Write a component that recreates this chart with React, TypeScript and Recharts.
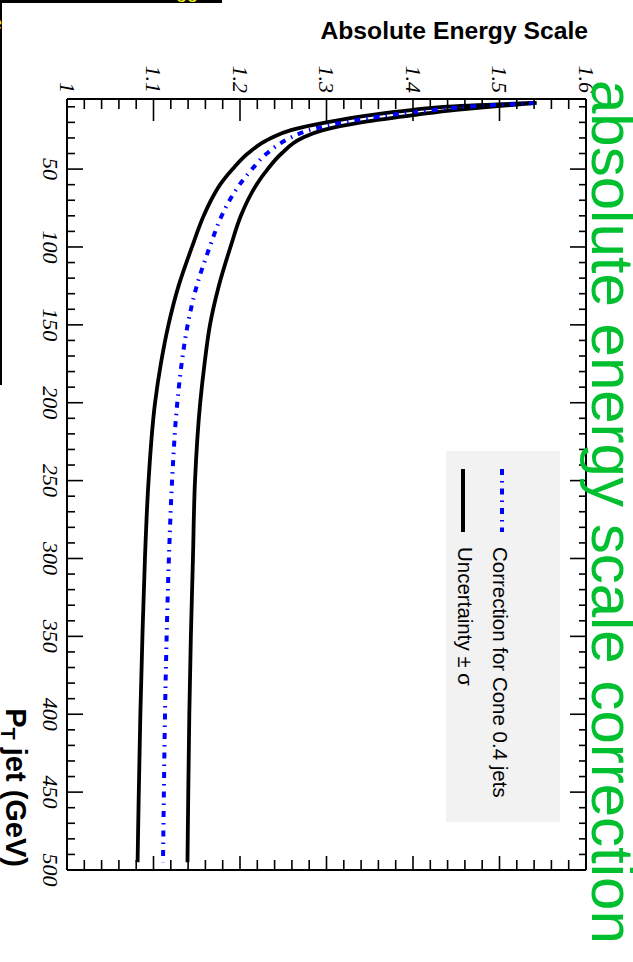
import React from 'react';
import { LineChart, Line, XAxis, YAxis, Legend } from 'recharts';

// Jet transverse momentum (GeV) where the calibration curves are sampled
const ptJet = [7.5, 10, 12, 15, 20, 25, 30, 40, 50, 60, 70, 80, 100, 125, 150, 175, 200, 250, 300, 350, 400, 450, 495];
// Absolute energy scale correction for Cone 0.4 jets
const correction = [1.541, 1.462, 1.425, 1.378, 1.32, 1.28, 1.258, 1.231, 1.214, 1.1995, 1.188, 1.1788, 1.165, 1.15, 1.1395, 1.1325, 1.1275, 1.1215, 1.1178, 1.1152, 1.1133, 1.112, 1.111];
// Lower edge of the uncertainty band (-1 sigma)
const uncertaintyLow = [1.54, 1.435, 1.4, 1.355, 1.3, 1.259, 1.236, 1.209, 1.1915, 1.177, 1.1665, 1.158, 1.1445, 1.129, 1.1173, 1.1085, 1.1018, 1.0943, 1.0901, 1.0872, 1.0848, 1.083, 1.0816];
// Upper edge of the uncertainty band (+1 sigma)
const uncertaintyHigh = [1.543, 1.488, 1.45, 1.405, 1.34, 1.296, 1.272, 1.248, 1.232, 1.219, 1.209, 1.201, 1.189, 1.1755, 1.1653, 1.159, 1.154, 1.148, 1.1456, 1.1432, 1.1414, 1.1402, 1.1393];

// Axis ranges and labelled ticks
const ptRange = [5, 500];
const scaleRange = [1, 1.6];
const ptTickLabels = [50, 100, 150, 200, 250, 300, 350, 400, 450, 500];
const scaleTickLabels = [1, 1.1, 1.2, 1.3, 1.4, 1.5, 1.6];

const legendItems = [
  { label: 'Correction for Cone 0.4 jets', color: '#0000ff', dash: '6 6 1.5 6' },
  { label: 'Uncertainty \u00b1 \u03c3', color: '#000000', dash: '' },
];

// Frame geometry of the pad (unrotated)
const CHART_W = 962;
const CHART_H = 633;
const PAD = { left: 99, right: 92, top: 47, bottom: 67 };
const PLOT_H = CHART_H - PAD.top - PAD.bottom;
const PLOT_W = CHART_W - PAD.left - PAD.right;

// Minor ticks every 10 GeV and every 0.02 in scale
const ptTicks: number[] = [];
for (let v = 10; v <= ptRange[1]; v += 10) ptTicks.push(v);
const scaleTicks: number[] = [];
for (let i = 0; i <= 30; i++) scaleTicks.push(Math.round((scaleRange[0] + i * 0.02) * 100) / 100);

const isMajorPt = (v: number) => ptTickLabels.includes(v);
const isMajorScale = (v: number) => scaleTickLabels.some((t) => Math.abs(t - v) < 1e-6);

const tickFont = { fontFamily: '"Liberation Serif", "Times New Roman", serif', fontStyle: 'italic' as const, fontSize: 22 };
const sansFont = '"Liberation Sans", Arial, Helvetica, sans-serif';

// pT ticks: inward ticks on the lower and upper frame edges, labels below
function PtTick(props: any) {
  const { x, y, payload } = props;
  const v = payload.value;
  const major = isMajorPt(v);
  const top = y - PLOT_H;
  return (
    <g>
      <line x1={x} x2={x} y1={y} y2={y - (major ? 16 : 8)} stroke="#000" strokeWidth={1.6} />
      <line x1={x} x2={x} y1={top} y2={top + (major ? 16 : 7)} stroke="#000" strokeWidth={1.6} />
      {major && (
        <text x={x} y={y + 24} textAnchor="middle" fill="#000" {...tickFont}>
          {v}
        </text>
      )}
    </g>
  );
}

// Scale ticks: inward ticks on the left and right frame edges, labels on the left
function ScaleTick(props: any) {
  const { x, y, payload } = props;
  const v = payload.value;
  const major = isMajorScale(v);
  const right = x + PLOT_W;
  return (
    <g>
      <line x1={x} x2={x + (major ? 22 : 10)} y1={y} y2={y} stroke="#000" strokeWidth={1.6} />
      <line x1={right} x2={right - (major ? 14 : 10)} y1={y} y2={y} stroke="#000" strokeWidth={1.6} />
      {major && (
        <text x={x - 6} y={y + 7.5} textAnchor="end" fill="#000" {...tickFont}>
          {String(v)}
        </text>
      )}
    </g>
  );
}

function LegendBox() {
  return (
    <div style={{ width: 371, height: 114, background: '#f2f2f2', position: 'relative' }}>
      {legendItems.map((item, i) => {
        const cy = i === 0 ? 58 : 97;
        return (
          <div key={item.label}>
            <svg width={90} height={12} style={{ position: 'absolute', left: 10, top: cy - 6 }}>
              <line x1={8} x2={71} y1={6} y2={6} stroke={item.color} strokeWidth={4} strokeDasharray={item.dash || undefined} />
            </svg>
            <div
              style={{
                position: 'absolute',
                left: 96,
                top: cy - 13 + (i === 0 ? 2 : -2),
                fontFamily: sansFont,
                fontSize: 20.5,
                lineHeight: '26px',
                whiteSpace: 'nowrap',
                color: '#000',
              }}
            >
              {item.label}
            </div>
          </div>
        );
      })}
    </div>
  );
}

export default function App() {
  const data = ptJet.map((pt, i) => ({
    pt,
    correction: correction[i],
    low: uncertaintyLow[i],
    high: uncertaintyHigh[i],
  }));

  const frameLine = { stroke: '#000', strokeWidth: 2 };

  return (
    <div style={{ position: 'absolute', left: 0, top: 0, width: 633, height: 962, overflow: 'hidden', background: '#fff' }}>
      <div
        style={{
          position: 'absolute',
          left: 0,
          top: 0,
          width: CHART_W,
          height: CHART_H,
          transformOrigin: '0 0',
          transform: `translate(${CHART_H}px, 0) rotate(90deg)`,
        }}
      >
        <LineChart width={CHART_W} height={CHART_H} data={data} margin={{ top: 0, right: 0, bottom: 0, left: 0 }}>
          <XAxis
            xAxisId="pt"
            dataKey="pt"
            type="number"
            orientation="bottom"
            domain={ptRange}
            ticks={ptTicks}
            interval={0}
            height={PAD.bottom}
            tickSize={0}
            tickMargin={0}
            tickLine={false}
            allowDataOverflow
            axisLine={frameLine}
            tick={(p: any) => <PtTick {...p} />}
          />
          <XAxis
            xAxisId="ptTop"
            dataKey="pt"
            type="number"
            orientation="top"
            domain={ptRange}
            height={PAD.top}
            tickLine={false}
            tick={false}
            allowDataOverflow
            axisLine={frameLine}
          />
          <YAxis
            yAxisId="scale"
            type="number"
            orientation="left"
            domain={scaleRange}
            ticks={scaleTicks}
            interval={0}
            width={PAD.left}
            tickSize={0}
            tickMargin={0}
            tickLine={false}
            allowDataOverflow
            axisLine={frameLine}
            tick={(p: any) => <ScaleTick {...p} />}
          />
          <YAxis
            yAxisId="scaleRight"
            type="number"
            orientation="right"
            domain={scaleRange}
            width={PAD.right}
            tickLine={false}
            tick={false}
            allowDataOverflow
            axisLine={frameLine}
          />
          <Line
            xAxisId="pt"
            yAxisId="scale"
            type="monotone"
            dataKey="low"
            stroke="#000"
            strokeWidth={3.8}
            dot={false}
            isAnimationActive={false}
          />
          <Line
            xAxisId="pt"
            yAxisId="scale"
            type="monotone"
            dataKey="high"
            stroke="#000"
            strokeWidth={3.8}
            dot={false}
            isAnimationActive={false}
          />
          <Line
            xAxisId="pt"
            yAxisId="scale"
            type="monotone"
            dataKey="correction"
            stroke="#0000ff"
            strokeWidth={4}
            strokeDasharray="6 6 1.5 6"
            dot={false}
            isAnimationActive={false}
          />
          <Legend
            layout="horizontal"
            verticalAlign="middle"
            align="center"
            wrapperStyle={{ position: 'absolute', left: 451, top: 73, width: 371, height: 114 }}
            content={() => <LegendBox />}
          />
        </LineChart>
        <svg
          width={CHART_W}
          height={CHART_H}
          style={{ position: 'absolute', left: 0, top: 0, pointerEvents: 'none', overflow: 'visible' }}
        >
          <text
            x={39}
            y={45}
            transform="rotate(-90, 39, 45)"
            textAnchor="end"
            fontFamily={sansFont}
            fontWeight="bold"
            fontSize={24.7}
            fill="#000"
          >
            Absolute Energy Scale
          </text>
          <text x={867} y={627} textAnchor="end" fontFamily={sansFont} fontWeight="bold" fontSize={29} fill="#000">
            P<tspan fontSize={20} dy={5}>T</tspan>
            <tspan dy={-5}> jet (GeV)</tspan>
          </text>
          <text x={80} y={41} fontFamily={sansFont} fontSize={60} fill="#00c030">
            absolute energy scale correction
          </text>
          <line x1={1.5} x2={1.5} y1={411} y2={640} stroke="#000" strokeWidth={3} />
          <line x1={0} x2={385} y1={632} y2={632} stroke="#000" strokeWidth={2} />
        </svg>
      </div>
      {/* Corner caption box, almost entirely beyond the page edge */}
      <svg width={633} height={962} style={{ position: 'absolute', left: 0, top: 0, pointerEvents: 'none' }}>
        <text x={176} y={-2} fontFamily={sansFont} fontSize={20} fill="#eeee00">
          gg
        </text>
        <text x={-9} y={30} fontFamily={sansFont} fontSize={20} fill="#eeee00">
          e
        </text>
      </svg>
    </div>
  );
}
